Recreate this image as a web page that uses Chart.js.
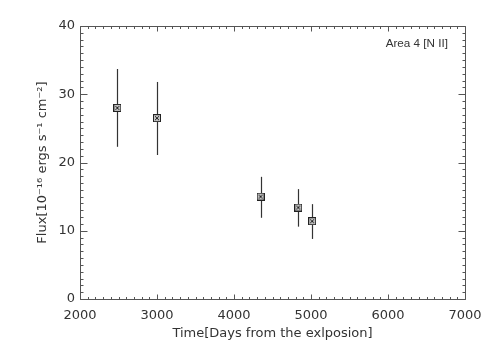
<!DOCTYPE html>
<html>
<head>
<meta charset="utf-8">
<script src="https://cdn.jsdelivr.net/npm/chart.js@4/dist/chart.umd.min.js"></script>
<style>
html,body{margin:0;padding:0;background:#fff;}
#wrap{width:491px;height:351px;position:relative;}
</style>
</head>
<body>
<div id="wrap"><canvas id="c" width="491" height="351"></canvas></div>
<script>
// Data
const days      = [2485, 3000, 4345, 4835, 5015];
const flux      = [28.0, 26.5, 15.0, 13.4, 11.4];
const fluxHigh  = [33.7, 31.8, 17.9, 16.1, 13.9];
const fluxLow   = [22.3, 21.1, 11.9, 10.6, 8.8];
const xTicks    = [2000, 3000, 4000, 5000, 6000, 7000];
const yTicks    = [0, 10, 20, 30, 40];
const panelLabel = 'Area 4 [N II]';
const xTitle = 'Time[Days from the exlposion]';
const yTitle = 'Flux[10\u207B\u00B9\u2076 ergs s\u207B\u00B9 cm\u207B\u00B2]';

const FONT = '"DejaVu Sans ExtraLight", "DejaVu Sans", sans-serif';

// boxed-X marker
const mk = document.createElement('canvas');
mk.width = 8; mk.height = 8;
(function(){
  const g = mk.getContext('2d');
  g.fillStyle = '#c4c4c4';
  g.fillRect(0,0,8,8);
  g.strokeStyle = '#222';
  g.lineWidth = 1;
  g.strokeRect(0.5,0.5,7,7);
  g.beginPath();
  g.moveTo(2,2); g.lineTo(6,6);
  g.moveTo(6,2); g.lineTo(2,6);
  g.stroke();
})();

const AXC = '#555';

const framePlugin = {
  id: 'frame',
  beforeDatasetsDraw(chart) {
    const {ctx, scales: {x, y}} = chart;
    ctx.save();
    ctx.strokeStyle = '#333';
    ctx.lineWidth = 1.2;
    for (let i = 0; i < days.length; i++) {
      const px = Math.round(x.getPixelForValue(days[i])) + 0.5;
      ctx.beginPath();
      ctx.moveTo(px, y.getPixelForValue(fluxHigh[i]));
      ctx.lineTo(px, y.getPixelForValue(fluxLow[i]));
      ctx.stroke();
    }
    ctx.restore();
  },
  afterDraw(chart) {
    const {ctx, chartArea: a, scales: {x, y}} = chart;
    ctx.save();
    ctx.strokeStyle = AXC;
    ctx.lineWidth = 1;
    const L = Math.round(a.left) + 0.5, R = Math.round(a.right) + 0.5;
    const T = Math.round(a.top) + 0.5, B = Math.round(a.bottom) + 0.5;
    ctx.beginPath();
    ctx.rect(L, T, R - L, B - T);
    ctx.stroke();
    ctx.beginPath();
    for (let v = xTicks[0]; v <= xTicks[xTicks.length-1]; v += 100) {
      const px = Math.round(x.getPixelForValue(v)) + 0.5;
      const len = (v % 1000 === 0) ? 5 : 2.5;
      ctx.moveTo(px, B); ctx.lineTo(px, B - len);
      ctx.moveTo(px, T); ctx.lineTo(px, T + len);
    }
    for (let v = yTicks[0]; v <= yTicks[yTicks.length-1]; v += 1) {
      const py = Math.round(y.getPixelForValue(v)) + 0.5;
      const len = (v % 10 === 0) ? 7 : 3;
      ctx.moveTo(L, py); ctx.lineTo(L + len, py);
      ctx.moveTo(R, py); ctx.lineTo(R - len, py);
    }
    ctx.stroke();
    ctx.fillStyle = '#333';
    ctx.font = '11.7px "Liberation Sans", Arial, sans-serif';
    ctx.textAlign = 'right';
    ctx.textBaseline = 'middle';
    ctx.fillText(panelLabel, 448, 44);
    ctx.restore();
  }
};

new Chart(document.getElementById('c'), {
  type: 'scatter',
  data: {
    datasets: [{
      data: days.map((d, i) => ({x: d, y: flux[i]})),
      pointStyle: mk,
      pointRadius: 4,
      showLine: false
    }]
  },
  options: {
    responsive: false,
    animation: false,
    devicePixelRatio: 1,
    layout: {padding: {left: 0, top: 26, right: 26, bottom: 0}},
    plugins: {legend: {display: false}, tooltip: {enabled: false}},
    scales: {
      x: {
        type: 'linear',
        min: xTicks[0], max: xTicks[xTicks.length-1],
        afterBuildTicks(s) { s.ticks = xTicks.map(v => ({value: v})); },
        afterFit(s) { s.height = 52; },
        grid: {display: false, drawTicks: false},
        border: {display: false},
        ticks: {padding: 9, color: '#333', maxRotation: 0,
                font: {family: FONT, size: 13},
                callback: v => String(v)},
        title: {display: true, text: xTitle, color: '#333',
                padding: {top: 0, bottom: 10},
                font: {family: FONT, size: 13}}
      },
      y: {
        type: 'linear',
        min: yTicks[0], max: yTicks[yTicks.length-1],
        afterBuildTicks(s) { s.ticks = yTicks.map(v => ({value: v})); },
        afterFit(s) { s.width = 80; },
        grid: {display: false, drawTicks: false},
        border: {display: false},
        ticks: {padding: 5, color: '#333',
                font: {family: FONT, size: 13},
                callback: v => String(v)},
        title: {display: true, text: yTitle, color: '#333',
                padding: {top: 35, bottom: 0},
                font: {family: FONT, size: 13}}
      }
    }
  },
  plugins: [framePlugin]
});
</script>
</body>
</html>
